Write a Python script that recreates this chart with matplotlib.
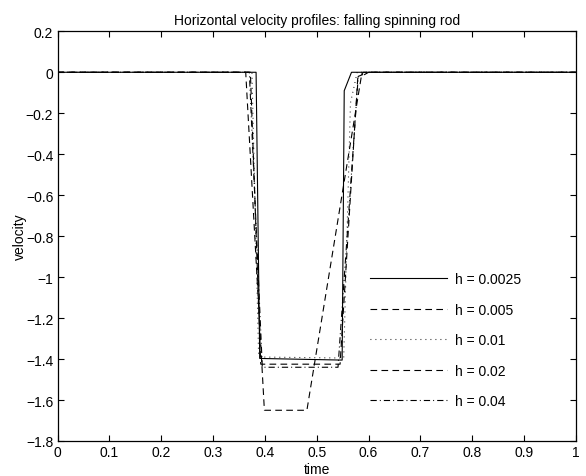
import numpy as np
import matplotlib
matplotlib.use("Agg")
import matplotlib.pyplot as plt
from matplotlib.ticker import FuncFormatter

# -----------------------------
# Data
# -----------------------------
t_h0025 = [0.0, 0.383, 0.390, 0.549, 0.553, 0.567, 1.0]
v_h0025 = [0.0, 0.0, -1.397, -1.405, -0.09, 0.0, 0.0]

t_h005 = [0.0, 0.372, 0.392, 0.545, 0.579, 0.59, 1.0]
v_h005 = [0.0, 0.0, -1.425, -1.425, -0.03, 0.0, 0.0]

t_h01 = [0.0, 0.375, 0.388, 0.552, 0.565, 0.578, 1.0]
v_h01 = [0.0, 0.0, -1.39, -1.395, -0.15, 0.0, 0.0]

t_h02 = [0.0, 0.363, 0.399, 0.481, 0.586, 0.60, 1.0]
v_h02 = [0.0, 0.0, -1.65, -1.65, -0.02, 0.0, 0.0]

t_h04 = [0.0, 0.370, 0.395, 0.541, 0.580, 0.60, 1.0]
v_h04 = [0.0, 0.0, -1.44, -1.44, -0.02, 0.0, 0.0]

labels = ["h = 0.0025", "h = 0.005", "h = 0.01", "h = 0.02", "h = 0.04"]

plt.rcParams["font.family"] = ["Liberation Sans", "DejaVu Sans"]
plt.rcParams["lines.scale_dashes"] = False

FS = 10

fig = plt.figure(figsize=(5.86, 4.77), dpi=100)
# axes box in pixels: left 57.5, right 576, top 32.3, bottom 442
ax = fig.add_axes([57.5 / 586, 35 / 477, 518.5 / 586, 409.7 / 477])

lw = 0.8
ax.plot(t_h0025, v_h0025, color="black", lw=lw, linestyle="-", label=labels[0])
ax.plot(t_h005, v_h005, color="black", lw=lw, linestyle=(0, (4.8, 3.1)), label=labels[1])
ax.plot(t_h01, v_h01, color="black", lw=lw, linestyle=(0, (0.6, 3.0)), label=labels[2])
ax.plot(t_h02, v_h02, color="black", lw=lw, linestyle=(0, (4.8, 3.1)), label=labels[3])
ax.plot(t_h04, v_h04, color="black", lw=lw, linestyle=(0, (4.5, 2.2, 0.7, 2.2)), label=labels[4])

ax.set_xlim(0, 1)
ax.set_ylim(-1.8, 0.2)
ax.set_xticks(np.arange(0, 1.01, 0.1))
ax.set_yticks(np.arange(-1.8, 0.21, 0.2))
fmt = FuncFormatter(lambda v, _: f"{round(v, 1) + 0.0:g}".replace("-", "\u2212"))
ax.xaxis.set_major_formatter(fmt)
ax.yaxis.set_major_formatter(fmt)
ax.tick_params(direction="in", length=4, width=0.8, labelsize=FS,
               top=True, right=True, pad=3)
for s in ax.spines.values():
    s.set_linewidth(0.9)

ax.set_title("Horizontal velocity profiles: falling spinning rod", fontsize=FS, pad=5)
ax.set_xlabel("time", fontsize=FS, labelpad=2)
ax.set_ylabel("velocity", fontsize=FS, labelpad=-1)

ax.legend(loc="upper left", bbox_to_anchor=(0.603, 0.412), frameon=False,
          fontsize=FS, handlelength=5.55, handletextpad=0.58, labelspacing=1.19,
          borderpad=0, borderaxespad=0)

fig.savefig("out.png", dpi=100)
